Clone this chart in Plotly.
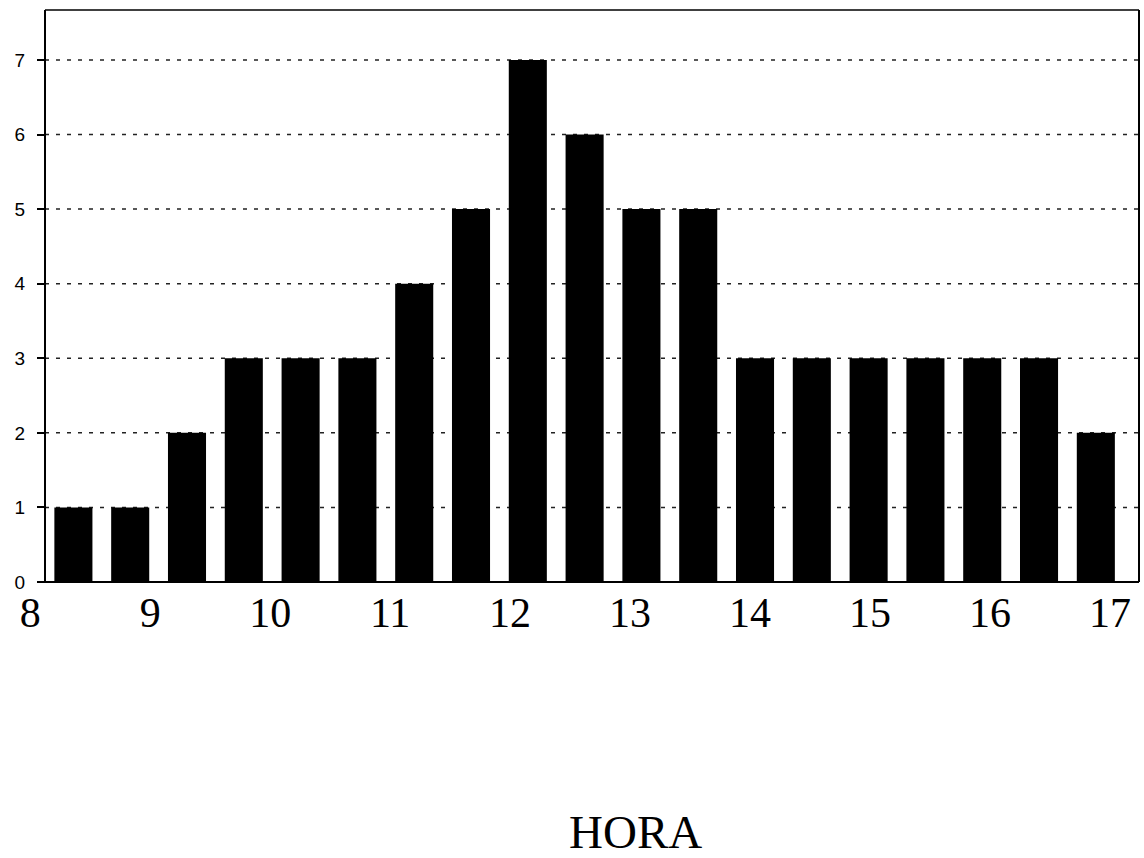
import plotly.graph_objects as go

# Data (half-hour slots from 8 h to 17 h)
slot_index = list(range(19))
counts = [1, 1, 2, 3, 3, 3, 4, 5, 7, 6, 5, 5, 3, 3, 3, 3, 3, 3, 2]
hour_ticks = [8, 9, 10, 11, 12, 13, 14, 15, 16, 17]
y_ticks = [0, 1, 2, 3, 4, 5, 6, 7]
x_title = "HORA"

W, H = 1144, 858
ML, MR, MT, MB = 15, 5, 10, 276
plot_w = W - ML - MR
plot_h = H - MT - MB
axis_left_px = 45
d0 = (axis_left_px - ML) / plot_w          # paper x of the y-axis line
slot_px = 56.81
x_lo = -0.5 - (axis_left_px - ML) / slot_px

fig = go.Figure()
fig.add_trace(go.Bar(
    x=slot_index, y=counts,
    marker=dict(color="black", line=dict(width=0)),
    xaxis="x", yaxis="y",
    hoverinfo="skip",
))
# helper trace so the hour axis is rendered
fig.add_trace(go.Scatter(x=hour_ticks, y=[None] * len(hour_ticks), xaxis="x2", yaxis="y",
                         mode="markers", hoverinfo="skip", showlegend=False))

fig.update_layout(
    width=W, height=H,
    margin=dict(l=ML, r=MR, t=MT, b=MB),
    paper_bgcolor="white", plot_bgcolor="white",
    showlegend=False,
    bargap=0.33,
    xaxis=dict(
        domain=[0, 1],
        range=[x_lo, 18.76],
        showline=False, showgrid=False, zeroline=False,
        showticklabels=False, ticks="",
    ),
    xaxis2=dict(
        overlaying="x",
        range=[7.873, 17.242],
        anchor="y",
        side="bottom",
        tickvals=hour_ticks,
        ticktext=[str(h) for h in hour_ticks],
        showline=False, showgrid=False, zeroline=False, ticks="",
        tickfont=dict(family="Liberation Serif, Times New Roman, serif", size=42, color="black"),
        ticklabelstandoff=2,
    ),
    yaxis=dict(
        range=[0, 7.67],
        anchor="free", position=d0,
        tickvals=y_ticks,
        showline=True, linecolor="black", linewidth=2,
        ticks="outside", ticklen=7, tickcolor="black", tickwidth=2,
        showgrid=False, zeroline=False,
        tickfont=dict(family="Liberation Sans, Arial, sans-serif", size=19, color="black"),
        ticklabelstandoff=8,
    ),
)

# dotted horizontal grid lines at the y ticks (excluding the baseline)
for v in y_ticks[1:]:
    fig.add_shape(type="line", xref="paper", yref="y", x0=d0, x1=1, y0=v, y1=v,
                  line=dict(color="#222222", width=1.5, dash="4px,7px"), layer="below")

# chart frame: top, right, bottom
fig.add_shape(type="line", xref="paper", yref="paper", x0=d0, x1=1, y0=1, y1=1,
              line=dict(color="black", width=1.5), layer="above")
fig.add_shape(type="line", xref="paper", yref="paper", x0=1, x1=1, y0=0, y1=1,
              line=dict(color="black", width=2), layer="above")
fig.add_shape(type="line", xref="paper", yref="paper", x0=(38 - ML) / plot_w, x1=1, y0=0, y1=0,
              line=dict(color="black", width=2), layer="above")

fig.add_annotation(
    text=x_title, xref="paper", yref="paper",
    x=(635 - ML) / plot_w, y=-(832 - (H - MB)) / plot_h,
    xanchor="center", yanchor="middle", showarrow=False,
    font=dict(family="Liberation Serif, Times New Roman, serif", size=47, color="black"),
)

fig.write_html("out.html")
